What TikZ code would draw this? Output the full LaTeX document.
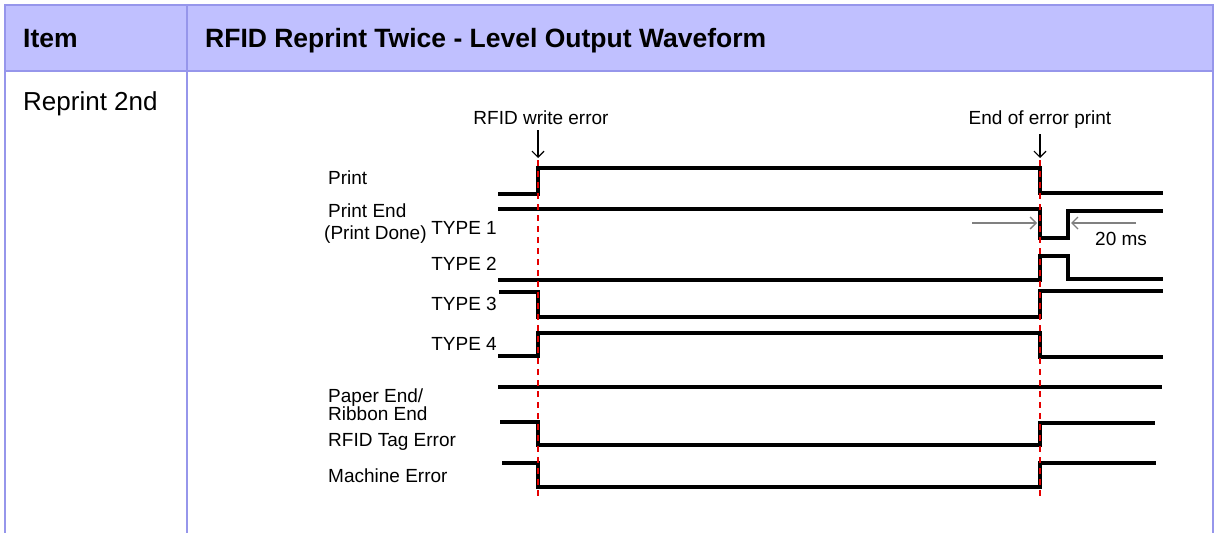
\documentclass[tikz,border=0pt]{standalone}
\usepackage{fontspec}
\setmainfont{Liberation Sans}
\usetikzlibrary{arrows.meta}
\definecolor{hdrfill}{RGB}{192,192,255}
\definecolor{hdrline}{RGB}{150,150,235}
\tikzset{
  sig/.style={line width=3.2pt},
  evline/.style={red!90!black,line width=1.4pt,dash pattern=on 6pt off 5pt},
  lbl/.style={inner sep=0pt,anchor=base west,font=\fontsize{19}{22}\selectfont},
  typelbl/.style={inner sep=0pt,anchor=base east,font=\fontsize{19}{22}\selectfont},
}
\begin{document}
\begin{tikzpicture}[x=1pt,y=-1pt,>={Straight Barb[length=6pt,width=12pt]}]
\useasboundingbox (0,0) rectangle (1216,533);

% table
\fill[hdrfill] (5,5) rectangle (1213,71);
\draw[hdrline,line width=2pt] (5,533)--(5,5)--(1213,5)--(1213,533);
\draw[hdrline,line width=2pt] (5,71)--(1213,71);
\draw[hdrline,line width=2pt] (187,5)--(187,533);

\node[inner sep=0pt,anchor=base west,font=\fontsize{26.5}{30}\selectfont\bfseries] (item) at (23,47) {Item};
\node[inner sep=0pt,anchor=base west,font=\fontsize{26.5}{30}\selectfont\bfseries] (title) at (205,47) {RFID Reprint Twice - Level Output Waveform};
\node[inner sep=0pt,anchor=base west,font=\fontsize{26}{30}\selectfont] (rep) at (23,110) {Reprint 2nd};

% events
\coordinate (wtop) at (538,158);
\coordinate (etop) at (1040,158);
\node[inner sep=0pt,anchor=base,font=\fontsize{19}{22}\selectfont] (werr) at (541,124) {RFID write error};
\node[inner sep=0pt,anchor=base,font=\fontsize{19}{22}\selectfont] (eerr) at (1040,124) {End of error print};
\draw[->,line width=1.2pt] (werr.south -| wtop) ++(0,6) -- (wtop);
\draw[->,line width=1.2pt] (eerr.south -| etop) ++(0,6) -- (etop);

% signal names
\node[lbl] (print) at (328,184) {Print};
\node[lbl] (pend) at (328,217) {Print End};
\node[lbl] (pdone) at (324,239) {(Print Done)};
\node[typelbl] (t1) at (497,234) {TYPE 1};
\node[typelbl] (t2) at (497,270) {TYPE 2};
\node[typelbl] (t3) at (497,310) {TYPE 3};
\node[typelbl] (t4) at (497,350) {TYPE 4};
\node[lbl] (paper) at (328,402) {Paper End/};
\node[lbl] (ribbon) at (328,420) {Ribbon End};
\node[lbl] (tagerr) at (328,446) {RFID Tag Error};
\node[lbl] (macherr) at (328,482) {Machine Error};

% waveforms
\draw[sig] (498,194)--(538,194)--(538,168)--(1040,168)--(1040,193)--(1163,193);
\draw[sig] (498,209)--(1040,209)--(1040,238)--(1068,238)--(1068,211)--(1163,211);
\draw[sig] (498,280)--(1040,280)--(1040,256)--(1068,256)--(1068,279)--(1163,279);
\draw[sig] (499,292)--(538,292)--(538,317)--(1040,317)--(1040,291)--(1163,291);
\draw[sig] (498,356)--(538,356)--(538,333)--(1040,333)--(1040,357)--(1163,357);
\draw[sig] (498,387)--(1162,387);
\draw[sig] (500,422)--(538,422)--(538,445)--(1040,445)--(1040,423)--(1155,423);
\draw[sig] (502,463)--(538,463)--(538,487)--(1040,487)--(1040,463)--(1156,463);

% event lines
\draw[evline] (538,160)--(538,497);
\draw[evline] (1040,160)--(1040,497);

% 20 ms
\coordinate (pl) at (1037,223);
\coordinate (pr) at (1071,223);
\draw[->,gray,line width=1.4pt] (972,223) -- (pl);
\draw[->,gray,line width=1.4pt] (1136,223) -- (pr);
\node[lbl] (ms) at (1095,245) {20 ms};
\end{tikzpicture}
\end{document}
